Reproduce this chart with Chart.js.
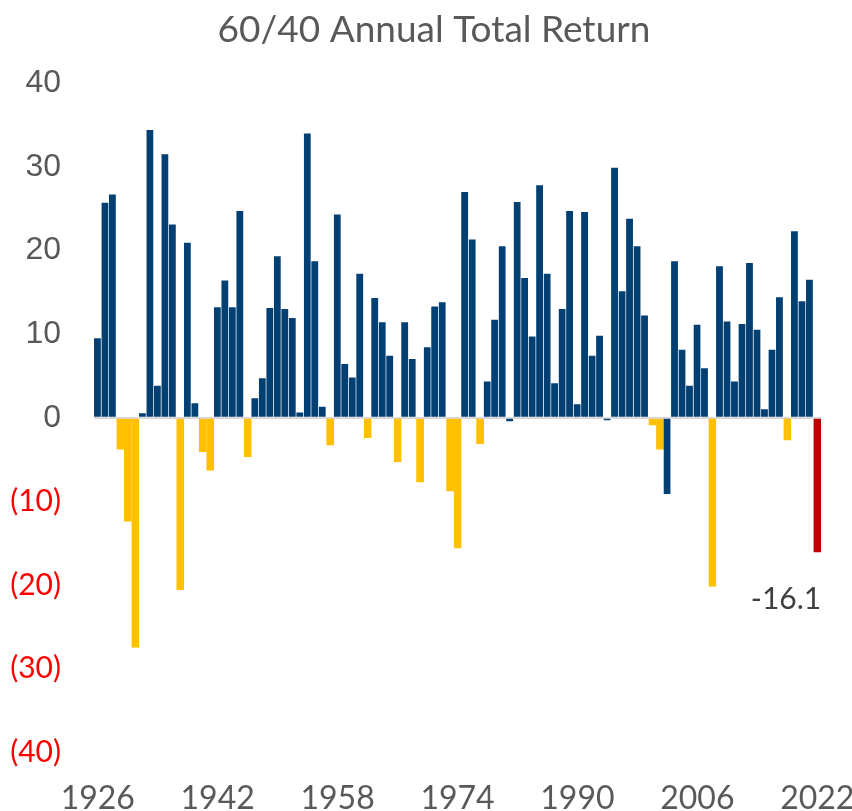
<!DOCTYPE html>
<html>
<head>
<meta charset="utf-8">
<script src="https://cdn.jsdelivr.net/npm/chart.js@4.4.0/dist/chart.umd.min.js"></script>
<style>
    html, body { margin: 0; padding: 0; background: #ffffff; }
    #wrap { width: 852px; height: 811px; }
</style>
</head>
<body>
<div id="wrap"><canvas id="returns-chart"></canvas></div>
<script>
// 60/40 annual total return, %, one bar per year
const years = [
    1926, 1927, 1928, 1929, 1930, 1931, 1932, 1933, 1934, 1935, 1936, 1937, 1938, 1939, 1940, 1941,
    1942, 1943, 1944, 1945, 1946, 1947, 1948, 1949, 1950, 1951, 1952, 1953, 1954, 1955, 1956, 1957,
    1958, 1959, 1960, 1961, 1962, 1963, 1964, 1965, 1966, 1967, 1968, 1969, 1970, 1971, 1972, 1973,
    1974, 1975, 1976, 1977, 1978, 1979, 1980, 1981, 1982, 1983, 1984, 1985, 1986, 1987, 1988, 1989,
    1990, 1991, 1992, 1993, 1994, 1995, 1996, 1997, 1998, 1999, 2000, 2001, 2002, 2003, 2004, 2005,
    2006, 2007, 2008, 2009, 2010, 2011, 2012, 2013, 2014, 2015, 2016, 2017, 2018, 2019, 2020, 2021,
    2022
];
const annualReturn = [
    9.6, 25.8, 26.8, -3.8, -12.4, -27.5, 0.6, 34.5, 3.9, 31.6, 23.2, -20.6, 21.0, 1.8, -4.1, -6.3,
    13.3, 16.5, 13.3, 24.8, -4.7, 2.4, 4.8, 13.2, 19.4, 13.1, 12.0, 0.7, 34.1, 18.8, 1.4, -3.3,
    24.4, 6.5, 4.9, 17.3, -2.4, 14.4, 11.5, 7.5, -5.3, 11.5, 7.1, -7.7, 8.5, 13.4, 13.9, -8.8,
    -15.6, 27.1, 21.4, -3.1, 4.4, 11.8, 20.6, -0.5, 25.9, 16.8, 9.8, 27.9, 17.3, 4.2, 13.1, 24.8,
    1.7, 24.7, 7.5, 9.9, -0.4, 30.0, 15.2, 23.9, 20.6, 12.3, -0.9, -3.8, -9.2, 18.8, 8.2, 3.9,
    11.2, 6.0, -20.2, 18.2, 11.6, 4.4, 11.3, 18.6, 10.6, 1.1, 8.2, 14.5, -2.7, 22.4, 14.0, 16.6,
    -16.1
];
// negative years that the source still paints in blue, and the highlighted latest year
const blueDownYears = [1981, 1994, 2002];
const highlightYear = 2022;
const yTicks = [-40, -30, -20, -10, 0, 10, 20, 30, 40];
const labelEvery = 16;

const NAVY = '#023f73';
const GOLD = '#ffc000';
const RED = '#c00000';
const GREY_TEXT = '#595959';

const barColors = years.map((y, i) => {
    if (y === highlightYear) return RED;
    if (annualReturn[i] >= 0 || blueDownYears.includes(y)) return NAVY;
    return GOLD;
});

// value label under the highlighted bar; title box nudged to sit where the source has it
const lastValueLabel = {
    id: 'lastValueLabel',
    afterLayout(chart) {
        if (chart.titleBlock) {
            chart.titleBlock.left = 16;
            chart.titleBlock.right = chart.width;
        }
    },
    afterDatasetsDraw(chart) {
        const idx = years.indexOf(highlightYear);
        const bar = chart.getDatasetMeta(0).data[idx];
        if (!bar) return;
        const ctx = chart.ctx;
        ctx.save();
        ctx.font = '30px Lato';
        ctx.fillStyle = '#404040';
        ctx.textAlign = 'right';
        ctx.textBaseline = 'top';
        ctx.fillText(annualReturn[idx].toFixed(1), bar.x + 4, bar.y + 32);
        ctx.restore();
    }
};

new Chart(document.getElementById('returns-chart'), {
    type: 'bar',
    data: {
        labels: years,
        datasets: [{
            data: annualReturn,
            backgroundColor: barColors,
            borderColor: barColors.map(c => c === NAVY ? 'rgba(255,255,255,0.45)' : c),
            borderWidth: { top: 1, right: 1, bottom: 1, left: 0 },
            borderSkipped: 'start',
            barPercentage: 1,
            categoryPercentage: 1
        }]
    },
    options: {
        responsive: true,
        maintainAspectRatio: false,
        animation: false,
        layout: { padding: { top: 0, right: 31, bottom: 0, left: 0 } },
        plugins: {
            legend: { display: false },
            tooltip: { enabled: false },
            title: {
                display: true,
                text: '60/40 Annual Total Return',
                color: GREY_TEXT,
                font: { family: 'Lato', size: 37, weight: 'normal' },
                padding: { top: 8, bottom: 31 }
            }
        },
        scales: {
            x: {
                grid: { display: false },
                border: { display: false },
                ticks: {
                    color: GREY_TEXT,
                    font: { family: 'Lato', size: 32 },
                    autoSkip: false,
                    maxRotation: 0,
                    padding: 19,
                    callback: (v, i) => (years[i] - years[0]) % labelEvery === 0 ? String(years[i]) : ''
                },
                afterFit: scale => { scale.paddingLeft = 0; scale.paddingRight = 0; scale.height = 59; }
            },
            y: {
                min: -40,
                max: 40,
                z: 1,
                afterBuildTicks: scale => { scale.ticks = yTicks.map(v => ({ value: v })); },
                afterFit: scale => { scale.width = 94; },
                border: { display: false },
                grid: {
                    drawTicks: false,
                    lineWidth: 2,
                    color: ctx => ctx.tick && ctx.tick.value === 0 ? '#d9d9d9' : 'rgba(0,0,0,0)'
                },
                ticks: {
                    padding: 33,
                    color: ctx => ctx.tick.value < 0 ? '#ff0000' : GREY_TEXT,
                    font: ctx => ctx.tick && ctx.tick.value < 0
                        ? { family: 'Lato', size: 30 }
                        : { family: 'Liberation Sans', size: 32 },
                    callback: v => v < 0 ? '(' + (-v) + ')' : String(v)
                }
            }
        }
    },
    plugins: [lastValueLabel]
});
</script>
</body>
</html>
